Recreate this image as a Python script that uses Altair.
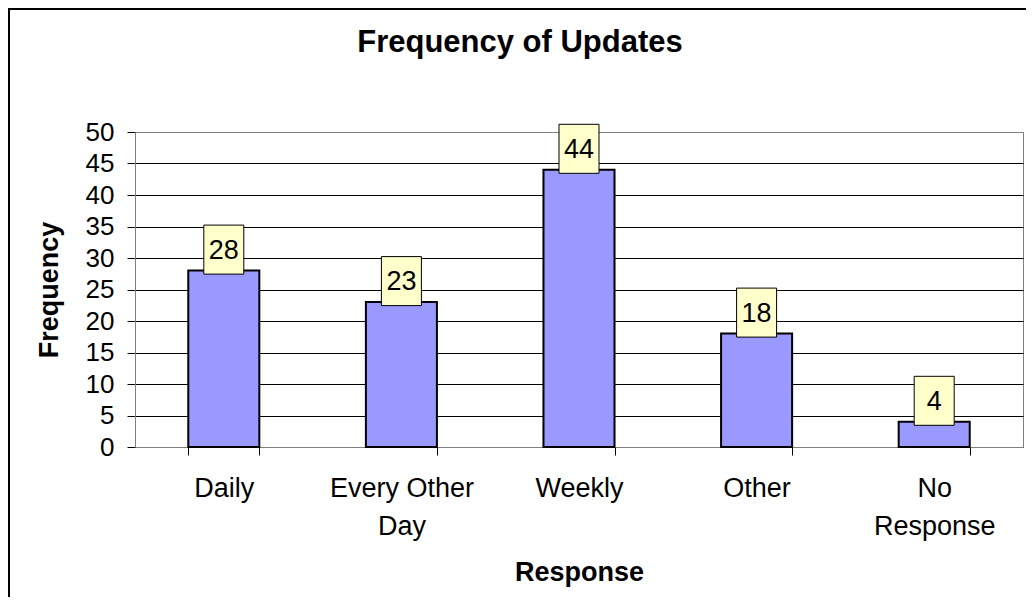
import altair as alt
import pandas as pd

categories = ["Daily", "Every Other Day", "Weekly", "Other", "No Response"]
frequency = [28, 23, 44, 18, 4]
y_ticks = [0, 5, 10, 15, 20, 25, 30, 35, 40, 45, 50]
chart_title = "Frequency of Updates"

df = pd.DataFrame({"Response": categories, "Frequency": frequency})

FONT = "Liberation Sans, Arial, sans-serif"

label_expr = (
    "datum.value == 'Every Other Day' ? ['Every Other', 'Day'] : "
    "datum.value == 'No Response' ? ['No', 'Response'] : datum.value"
)

x_enc = alt.X(
    "Response:N",
    sort=categories,
    scale=alt.Scale(paddingInner=0.6, paddingOuter=0.3),
    axis=alt.Axis(
        title="Response",
        labelAngle=0,
        tickBand="extent",
        grid=False,
        labelExpr=label_expr,
        labelFontSize=27,
        labelLineHeight=38,
        labelPadding=20,
        labelOverlap=False,
        labelLimit=300,
        tickSize=8,
        titleX=444,
        titleY=133,
        titleBaseline="alphabetic",
        titleFontSize=27,
        titleFontWeight="bold",
        domainColor="#808080",
        tickColor="black",
    ),
)

y_enc = alt.Y(
    "Frequency:Q",
    scale=alt.Scale(domain=[0, 50], nice=False),
    axis=alt.Axis(
        values=y_ticks,
        title="Frequency",
        titleX=-86,
        titleY=157.5,
        titleAlign="center",
        titleBaseline="middle",
        titleFontSize=27,
        titleFontWeight="bold",
        labelFontSize=26,
        labelPadding=13,
        labelOverlap=False,
        tickSize=8,
        gridColor={"condition": {"test": "datum.value >= 50", "value": "#808080"}, "value": "black"},
        domainColor="#808080",
        tickColor="black",
    ),
)

base = alt.Chart(df)

border = alt.Chart(alt.Data(values=[{"k": 1}])).mark_rect(
    fill="transparent", stroke="black", strokeWidth=2
).encode(
    x=alt.value(-126), x2=alt.value(1300), y=alt.value(-123), y2=alt.value(900)
)

title_mark = alt.Chart(alt.Data(values=[{"t": chart_title}])).mark_text(
    font=FONT, fontSize=31, fontWeight="bold", color="black",
    align="center", baseline="alphabetic",
).encode(x=alt.value(385), y=alt.value(-80), text="t:N")

bars = base.mark_bar(color="#9999FF", stroke="black", strokeWidth=2).encode(
    x=x_enc, y=y_enc
)

boxes = base.mark_point(
    shape="M-0.4,-0.49L0.4,-0.49L0.4,0.49L-0.4,0.49Z",
    size=10000,
    filled=True,
    fill="#FFFFCC",
    stroke="black",
    strokeWidth=1,
    opacity=1,
    yOffset=-21,
).encode(x=x_enc, y=y_enc)

labels = base.mark_text(
    fontSize=27, font=FONT, color="black", baseline="middle", yOffset=-20
).encode(x=x_enc, y=y_enc, text="Frequency:Q")

chart = (
    alt.layer(border, title_mark, bars, boxes, labels)
    .properties(
        width=888,
        height=315,
        autosize=alt.AutoSizeParams(type="none"),
        padding={"left": 127, "top": 124, "right": 3, "bottom": 150},
    )
    .configure_view(stroke="#808080", strokeWidth=1)
    .configure_axis(labelFont=FONT, titleFont=FONT, labelColor="black", titleColor="black")
    .configure_text(font=FONT)
)

chart.save("out.html", embed_options={"renderer": "svg", "actions": False})
